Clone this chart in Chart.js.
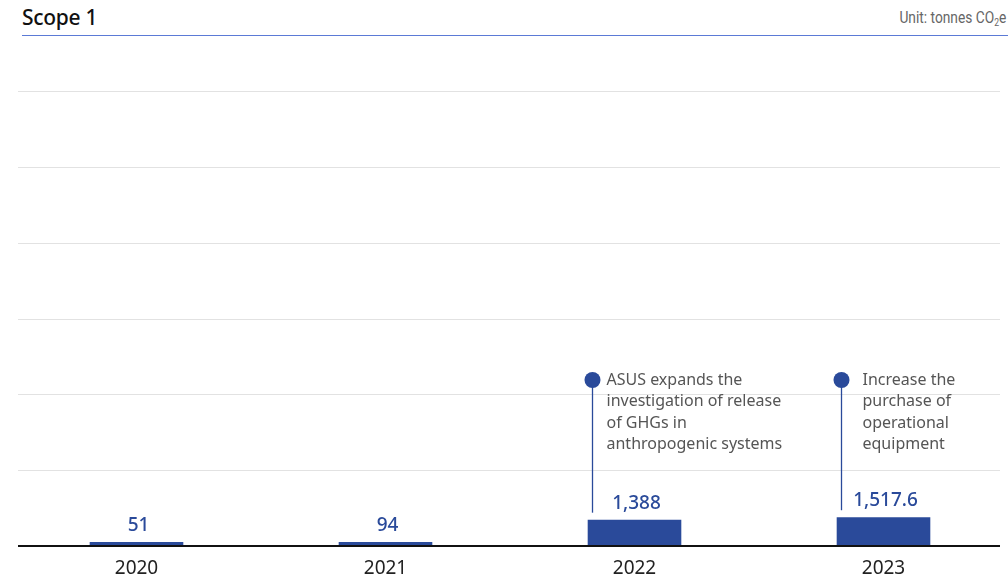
<!DOCTYPE html>
<html>
<head>
<meta charset="utf-8">
<script src="https://cdn.jsdelivr.net/npm/chart.js@4/dist/chart.umd.min.js"></script>
<style>
  html, body { margin: 0; padding: 0; background: #fff; }
  #wrap { position: relative; width: 1008px; height: 578px; overflow: hidden; }
  #title { position: absolute; left: 22px; top: 3px; font: 500 21px "Noto Sans", sans-serif; color: #111; letter-spacing: -0.3px; }
  #unit { position: absolute; right: 2px; top: 8px; font: 16px "Roboto", sans-serif; color: #666;
          transform: scaleX(0.86); transform-origin: right top; white-space: nowrap; }
  #unit sub { font-size: 10px; vertical-align: -3px; }
  #rule { position: absolute; left: 22px; right: 0; top: 35px; height: 1px; background: #5b7ad6; }
  canvas { position: absolute; left: 0; top: 0; }
</style>
</head>
<body>
<div id="wrap">
  <div id="title">Scope 1</div>
  <div id="unit">Unit: tonnes CO<sub>2</sub>e</div>
  <div id="rule"></div>
  <canvas id="c" width="1008" height="578"></canvas>
</div>
<script>
// Scope 1 emissions by year (tonnes CO2e)
const years = ['2020', '2021', '2022', '2023'];
const emissions = [51, 94, 1388, 1517.6];
const valueLabels = ['51', '94', '1,388', '1,517.6'];
// Notes attached to specific years
const noteYears = ['2022', '2023'];
const noteLines = [
  ['ASUS expands the', 'investigation of release', 'of GHGs in', 'anthropogenic systems'],
  ['Increase the', 'purchase of', 'operational', 'equipment']
];

const BAR = '#2a4a9a';

const gridPlugin = {
  id: 'grid',
  beforeDatasetsDraw(chart) {
    const { ctx, scales: { y } } = chart;
    ctx.save();
    ctx.strokeStyle = '#e2e2e2';
    ctx.lineWidth = 1;
    y.ticks.forEach(t => {
      if (t.value === 0) return;
      const py = Math.round(y.getPixelForValue(t.value)) + 0.5;
      ctx.beginPath();
      ctx.moveTo(18, py);
      ctx.lineTo(1000, py);
      ctx.stroke();
    });
    ctx.restore();
  },
  afterDatasetsDraw(chart) {
    const { ctx, scales: { y } } = chart;
    const meta = chart.getDatasetMeta(0);
    ctx.save();
    // baseline
    const by = y.getPixelForValue(0);
    ctx.strokeStyle = '#111';
    ctx.lineWidth = 2;
    ctx.beginPath();
    ctx.moveTo(18, by);
    ctx.lineTo(1000, by);
    ctx.stroke();

    // value labels
    ctx.fillStyle = BAR;
    ctx.font = '500 19px "Noto Sans", sans-serif';
    ctx.textAlign = 'center';
    ctx.textBaseline = 'alphabetic';
    meta.data.forEach((bar, i) => {
      ctx.fillText(valueLabels[i], bar.x + 2, bar.y - 11);
    });

    // notes with marker and leader line
    noteYears.forEach((yr, k) => {
      const i = years.indexOf(yr);
      const bar = meta.data[i];
      const x = Math.round(bar.x - bar.width / 2 + 4) + 0.5;
      const dotY = 380;
      ctx.strokeStyle = BAR;
      ctx.lineWidth = 1.3;
      ctx.beginPath();
      ctx.moveTo(x, dotY);
      ctx.lineTo(x, bar.y - 7);
      ctx.stroke();
      ctx.fillStyle = BAR;
      ctx.beginPath();
      ctx.arc(x, dotY, 8, 0, Math.PI * 2);
      ctx.fill();
      ctx.fillStyle = '#555';
      ctx.font = '16px "Noto Sans", sans-serif';
      ctx.textAlign = 'left';
      ctx.textBaseline = 'middle';
      noteLines[k].forEach((line, j) => {
        ctx.fillText(line, x + 14 + (k === 1 ? 7 : 0), dotY + j * 21.5);
      });
    });
    ctx.restore();
  }
};

new Chart(document.getElementById('c'), {
  type: 'bar',
  data: {
    labels: years,
    datasets: [{
      data: emissions,
      backgroundColor: BAR,
      borderWidth: 0,
      categoryPercentage: 1,
      barPercentage: 0.376,
      minBarLength: 4
    }]
  },
  options: {
    responsive: false,
    animation: false,
    devicePixelRatio: 1,
    layout: { padding: { top: 91, left: 12, right: 0, bottom: 0 } },
    plugins: { legend: { display: false }, tooltip: { enabled: false } },
    scales: {
      x: {
        grid: { display: false },
        border: { display: false },
        afterFit(scale) { scale.height = 32; },
        ticks: { color: '#222', font: { family: 'Noto Sans', size: 19 }, padding: 3 }
      },
      y: {
        display: false,
        min: 0,
        max: 24000,
        ticks: { stepSize: 4000 }
      }
    }
  },
  plugins: [gridPlugin]
});
</script>
</body>
</html>
